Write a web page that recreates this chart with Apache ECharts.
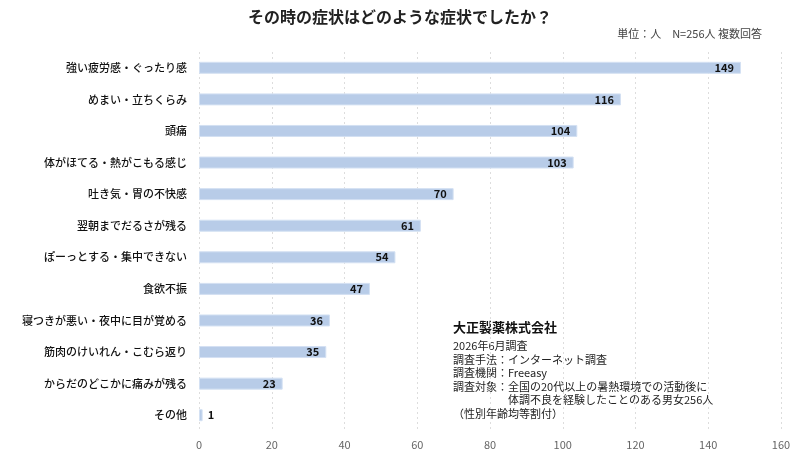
<!DOCTYPE html><html><head><meta charset="utf-8"><script src="https://cdn.jsdelivr.net/npm/echarts@6/dist/echarts.min.js"></script></head><body style="margin:0"><div id="c" style="width:800px;height:455px"></div><script>
const categories=['強い疲労感・ぐったり感','めまい・立ちくらみ','頭痛','体がほてる・熱がこもる感じ','吐き気・胃の不快感','翌朝までだるさが残る','ぽーっとする・集中できない','食欲不振','寝つきが悪い・夜中に目が覚める','筋肉のけいれん・こむら返り','からだのどこかに痛みが残る','その他'];
const values=[149,116,104,103,70,61,54,47,36,35,23,1];
const noteLines=['2026年6月調査','調査手法：インターネット調査','調査機関：Freeasy','調査対象：全国の20代以上の暑熱環境での活動後に','　　　　　体調不良を経験したことのある男女256人','（性別年齢均等割付）'];
const F='"Noto Sans CJK JP",sans-serif';
const ch=echarts.init(document.getElementById('c'));
ch.setOption({
textStyle:{fontFamily:F},
title:{text:'その時の症状はどのような症状でしたか？',left:'center',top:4,textStyle:{fontSize:16,fontWeight:'bold',color:'#222',fontFamily:F}},
graphic:[
{type:'text',right:38,top:28,style:{text:'単位：人　N=256人 複数回答',font:'11px '+F,fill:'#444'}},
{type:'text',left:453,top:321,style:{text:'大正製薬株式会社',font:'bold 13px '+F,fill:'#111'}},
{type:'text',left:453,top:339,style:{text:noteLines.join('\n'),font:'11px '+F,fill:'#222',lineHeight:13.6}}
],
grid:{left:199,right:19,top:52,bottom:24,containLabel:false},
xAxis:{type:'value',min:0,max:160,interval:20,axisLabel:{color:'#666',fontSize:11},splitLine:{lineStyle:{type:[2,3],color:'#ddd'}},axisLine:{show:false},axisTick:{show:false}},
yAxis:{type:'category',data:categories,inverse:true,axisLabel:{color:'#111',fontSize:11,margin:12,fontWeight:500},axisLine:{show:false},axisTick:{show:false}},
series:[{type:'bar',data:values.map(v=>v<10?{value:v,label:{position:'right',offset:[0,0]}}:v),barWidth:12,itemStyle:{color:'#b8cce8',borderColor:'#d4e1f3',borderWidth:1},label:{show:true,position:'insideRight',color:'#111',fontWeight:'bold',fontSize:11,offset:[-2,0]}}]
});
</script></body></html>
